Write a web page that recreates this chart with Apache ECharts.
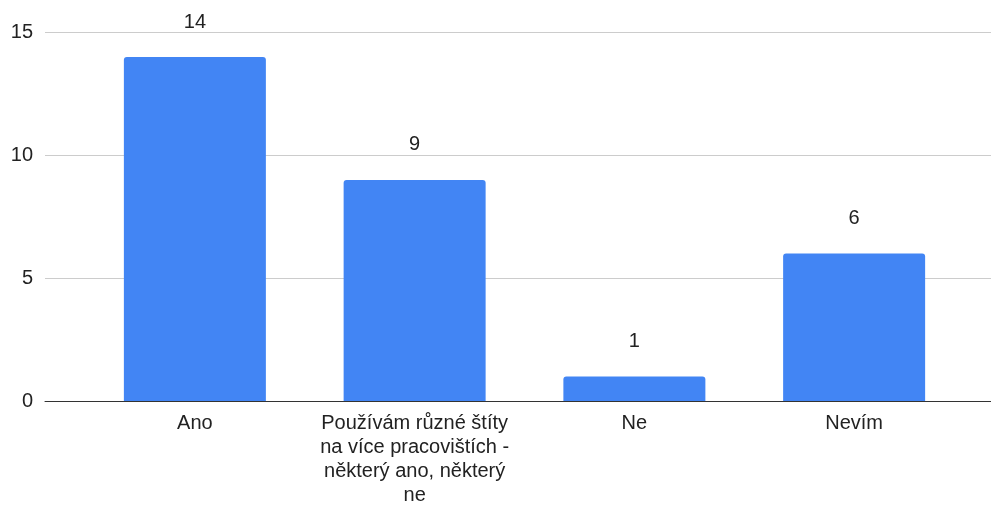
<!DOCTYPE html>
<html>
<head>
<meta charset="utf-8">
<script src="https://cdn.jsdelivr.net/npm/echarts@6/dist/echarts.min.js"></script>
<style>
  html, body { margin: 0; padding: 0; background: #fff; }
  #chart { width: 991px; height: 507px; }
</style>
</head>
<body>
<div id="chart"></div>
<script>
const categories = [
  'Ano',
  'Používám různé štíty na více pracovištích - některý ano, některý ne',
  'Ne',
  'Nevím'
]
const values = [14, 9, 1, 6]
const yMin = 0
const yMax = 15
const yStep = 5

const FONT = '"Liberation Sans", Arial, sans-serif'
const TEXT = '#222222'
const TOP = 32.5
const BOTTOM = 106
const MAX_CHARS = 22

// greedy word wrap by character count
function wrap(text) {
  const lines = []
  let cur = ''
  text.split(' ').forEach(w => {
    if (cur && (cur + ' ' + w).length > MAX_CHARS) {
      lines.push(cur)
      cur = w
    } else {
      cur = cur ? cur + ' ' + w : w
    }
  })
  if (cur) lines.push(cur)
  return lines.join('\n')
}

const chart = echarts.init(document.getElementById('chart'))

chart.setOption({
  backgroundColor: '#ffffff',
  animation: false,
  textStyle: { fontFamily: FONT },
  grid: [
    // full-width grid: gridlines, y labels and the zero line
    { left: 45, right: 0, top: TOP, bottom: BOTTOM, outerBoundsMode: 'none' },
    // inner grid holding the bars
    { left: 85, right: 27, top: TOP, bottom: BOTTOM, outerBoundsMode: 'none' }
  ],
  xAxis: [
    {
      gridIndex: 0,
      type: 'value',
      min: 0,
      max: 1,
      axisLine: { show: true, onZero: false, lineStyle: { color: '#333333', width: 1 } },
      axisTick: { show: false },
      axisLabel: { show: false },
      splitLine: { show: false }
    },
    {
      gridIndex: 1,
      type: 'category',
      data: categories,
      axisLine: { show: false },
      axisTick: { show: false },
      axisLabel: {
        interval: 0,
        color: TEXT,
        fontSize: 20,
        fontFamily: FONT,
        lineHeight: 24,
        margin: 10,
        align: 'center',
        formatter: wrap
      }
    }
  ],
  yAxis: [
    {
      gridIndex: 0,
      type: 'value',
      min: yMin,
      max: yMax,
      interval: yStep,
      axisLine: { show: false },
      axisTick: { show: false },
      axisLabel: { color: TEXT, fontSize: 20, fontFamily: FONT, margin: 12 },
      splitLine: { show: true, lineStyle: { color: '#cccccc', width: 1 } }
    },
    {
      gridIndex: 1,
      type: 'value',
      min: yMin,
      max: yMax,
      interval: yStep,
      show: false,
      splitLine: { show: false }
    }
  ],
  series: [{
    type: 'bar',
    xAxisIndex: 1,
    yAxisIndex: 1,
    data: values,
    barWidth: 142,
    itemStyle: { color: '#4285f4', borderRadius: [3, 3, 0, 0] },
    label: {
      show: true,
      position: 'top',
      distance: 25,
      color: TEXT,
      fontSize: 20,
      fontFamily: FONT
    }
  }]
})
</script>
</body>
</html>
